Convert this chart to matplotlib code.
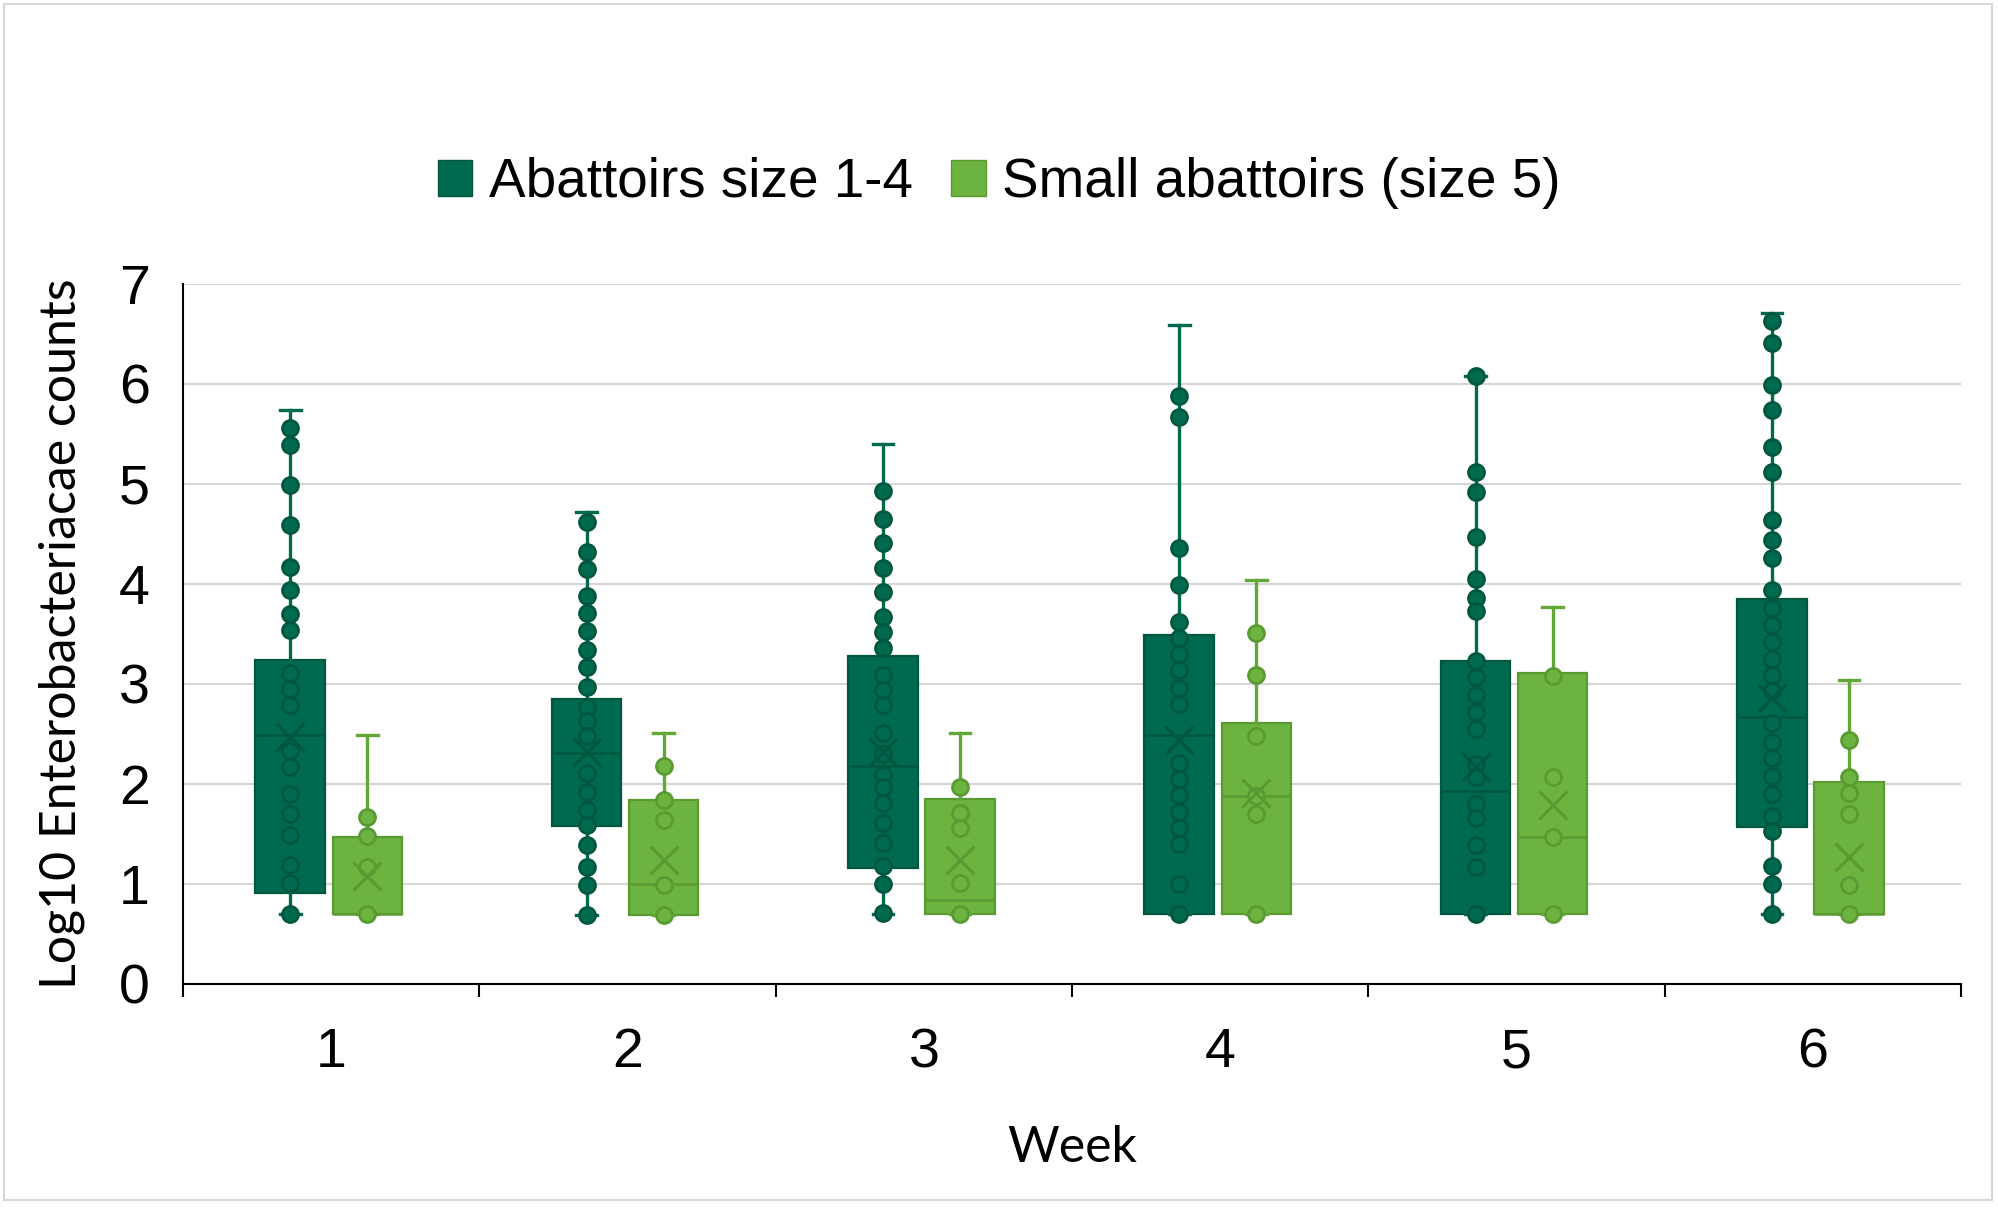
import matplotlib.pyplot as plt
from matplotlib.patches import Patch, Rectangle

# Data (log10 counts)
weeks = [1, 2, 3, 4, 5, 6]
series_names = ["Abattoirs size 1-4", "Small abattoirs (size 5)"]

# Abattoirs size 1-4
big_points = [
    [5.56, 5.39, 4.99, 4.59, 4.17, 3.94, 3.70, 3.54, 3.11, 2.95, 2.79, 2.33, 2.17, 1.90, 1.70, 1.49, 1.19, 1.01, 0.70],
    [4.62, 4.32, 4.15, 3.88, 3.71, 3.53, 3.34, 3.17, 2.97, 2.77, 2.63, 2.48, 2.11, 1.92, 1.74, 1.59, 1.39, 1.17, 0.99, 0.69],
    [4.93, 4.65, 4.41, 4.16, 3.92, 3.67, 3.52, 3.36, 3.09, 2.94, 2.79, 2.51, 2.30, 2.09, 1.97, 1.81, 1.61, 1.41, 1.18, 1.00, 0.71],
    [5.88, 5.67, 4.36, 3.99, 3.62, 3.46, 3.30, 3.14, 2.96, 2.80, 2.21, 2.05, 1.89, 1.72, 1.56, 1.40, 1.00, 0.70],
    [6.08, 5.12, 4.92, 4.47, 4.05, 3.86, 3.73, 3.23, 3.07, 2.89, 2.72, 2.55, 2.20, 2.07, 1.80, 1.66, 1.39, 1.17, 0.70],
    [6.63, 6.41, 5.99, 5.74, 5.37, 5.12, 4.64, 4.44, 4.26, 3.94, 3.76, 3.59, 3.42, 3.25, 3.09, 2.93, 2.61, 2.42,
     2.26, 2.08, 1.90, 1.68, 1.53, 1.18, 1.00, 0.70],
]
big_q1 = [0.91, 1.58, 1.16, 0.70, 0.70, 1.57]
big_med = [2.49, 2.31, 2.18, 2.49, 1.93, 2.67]
big_q3 = [3.24, 2.85, 3.28, 3.49, 3.23, 3.85]
big_lo = [0.70, 0.69, 0.70, 0.70, 0.70, 0.70]
big_hi = [5.74, 4.72, 5.40, 6.59, 6.08, 6.71]
big_mean = [2.47, 2.32, 2.32, 2.44, 2.17, 2.86]

# Small abattoirs (size 5)
small_points = [
    [1.67, 1.48, 1.17, 0.70],
    [2.18, 1.84, 1.64, 0.99, 0.69],
    [1.97, 1.71, 1.56, 1.01, 0.70],
    [3.51, 3.09, 2.48, 1.88, 1.70, 0.70],
    [3.08, 2.07, 1.47, 0.70],
    [2.44, 2.07, 1.91, 1.70, 0.99, 0.70],
]
small_q1 = [0.70, 0.69, 0.70, 0.70, 0.70, 0.70]
small_med = [0.70, 1.00, 0.84, 1.88, 1.47, 0.70]
small_q3 = [1.47, 1.84, 1.85, 2.61, 3.11, 2.02]
small_lo = [0.70, 0.69, 0.70, 0.70, 0.70, 0.70]
small_hi = [2.49, 2.51, 2.51, 4.04, 3.77, 3.04]
small_mean = [1.08, 1.24, 1.24, 1.91, 1.79, 1.27]

DARK, DARK_EDGE = "#006a4e", "#00573f"
LIGHT, LIGHT_EDGE = "#6db33f", "#5a9a32"

TICK_FONT = "Liberation Sans"
LABEL_FONT = "Lato"

fig = plt.figure(figsize=(19.98, 12.10), dpi=100)
W, H = 1998, 1210
ax = fig.add_axes([183 / W, 1 - 984 / H, (1961 - 183) / W, 700 / H])

# light grey frame round the whole chart
fig.patches.append(Rectangle((4 / W, 10 / H), 1988 / W, 1196 / H, transform=fig.transFigure,
                             fill=False, edgecolor="#d9d9d9", linewidth=1.5))


def make_stats(q1, med, q3, lo, hi):
    return [dict(q1=a, med=b, q3=c, whislo=d, whishi=e, fliers=[])
            for a, b, c, d, e in zip(q1, med, q3, lo, hi)]


width = 0.235
groups = [
    (big_points, make_stats(big_q1, big_med, big_q3, big_lo, big_hi), big_mean, -0.138, DARK, DARK_EDGE, DARK),
    (small_points, make_stats(small_q1, small_med, small_q3, small_lo, small_hi), small_mean, 0.122,
     LIGHT, LIGHT_EDGE, "#62a837"),
]

for points, stats, means, off, face, edge, wcol in groups:
    pos = [w + off for w in weeks]
    ax.bxp(stats, positions=pos, widths=width, patch_artist=True, showfliers=False,
           boxprops=dict(facecolor=face, edgecolor=edge, linewidth=1.6),
           medianprops=dict(color=edge, linewidth=1.8),
           whiskerprops=dict(color=wcol, linewidth=2.4),
           capprops=dict(color=wcol, linewidth=2.4),
           capwidths=0.07, manage_ticks=False, zorder=3)
    for p, pts in zip(pos, points):
        ax.plot([p] * len(pts), pts, "o", ms=11.5, mfc=face, mec=edge, mew=2, zorder=4)
    ax.plot(pos, means, "x", ms=20, mec=edge, mew=2.2, zorder=5)

ax.set_xlim(0.5, 6.5)
ax.set_ylim(0, 7)
ax.set_yticks(range(8))
ax.grid(axis="y", color="#d6d6d6", linewidth=1.5)
ax.set_axisbelow(True)

for s in ["top", "right"]:
    ax.spines[s].set_visible(False)
for s in ["left", "bottom"]:
    ax.spines[s].set_color("black")
    ax.spines[s].set_linewidth(1.5)

ax.set_xticks(weeks)
ax.set_xticklabels([str(w) for w in weeks])
ax.set_xticks([w + 0.5 for w in [0] + weeks], minor=True)
ax.tick_params(axis="x", which="major", length=0, pad=31, labelsize=40)
ax.tick_params(axis="x", which="minor", length=9.5, width=1.5, color="black")
ax.tick_params(axis="y", length=0, pad=24, labelsize=40)
for lab in ax.get_xticklabels() + ax.get_yticklabels():
    lab.set_fontfamily(TICK_FONT)

fig.text(1072 / W, 1 - 1148 / H, "Week", ha="center", va="center", fontsize=36, family=LABEL_FONT)
fig.text(62 / W, 1 - 634 / H, "Log10 Enterobacteriacae counts", ha="center", va="center",
         rotation=90, fontsize=36, family=LABEL_FONT)

handles = [Patch(facecolor=DARK, edgecolor=DARK_EDGE, label=series_names[0]),
           Patch(facecolor=LIGHT, edgecolor=LIGHT_EDGE, label=series_names[1])]
fig.legend(handles=handles, loc="center", bbox_to_anchor=(999 / W, 1 - 183 / H), ncol=2,
           frameon=False, prop=dict(family=TICK_FONT, size=39.5),
           handlelength=0.63, handleheight=0.63, handletextpad=0.3, columnspacing=0.7)

fig.savefig("out.png", dpi=100)
